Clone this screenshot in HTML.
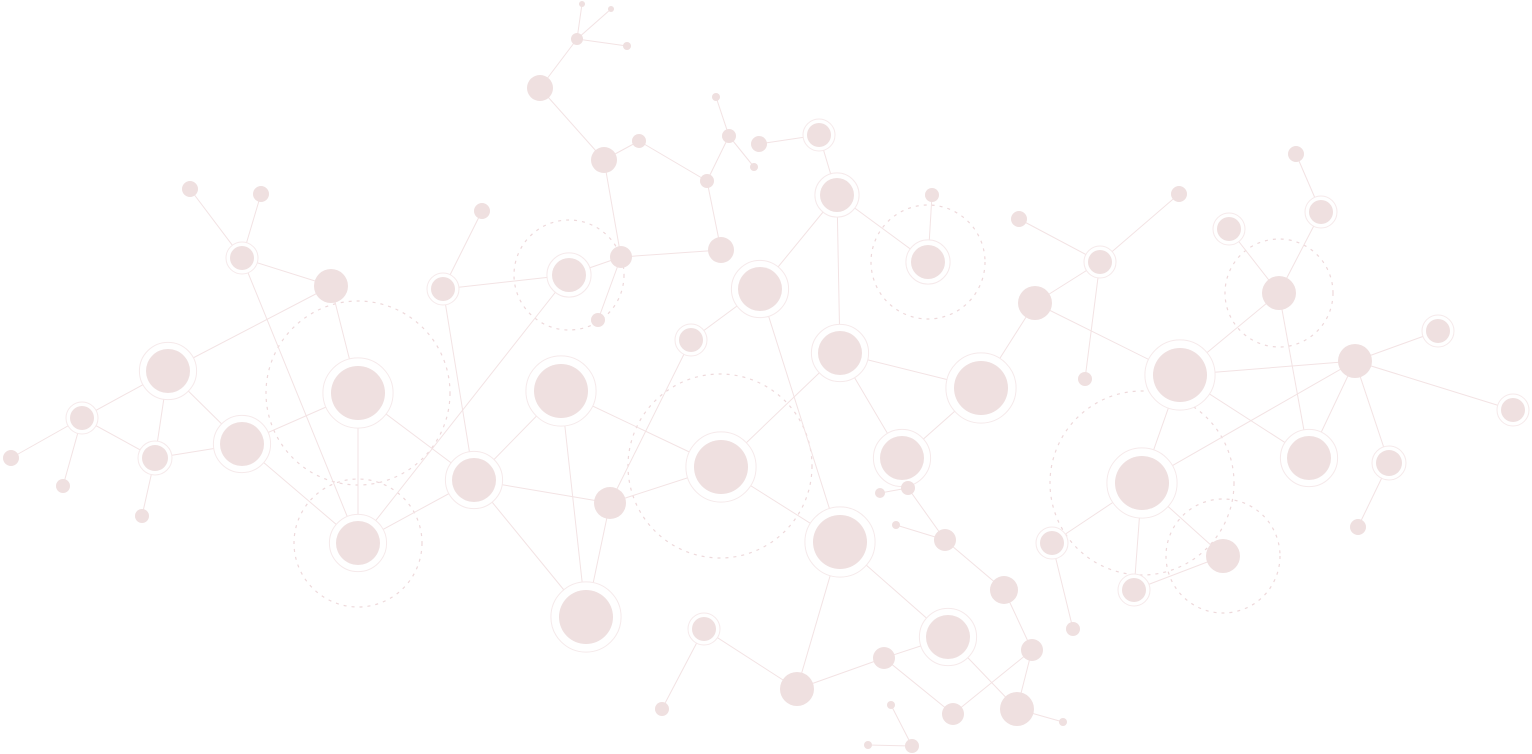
<!DOCTYPE html>
<html><head><meta charset="utf-8"><style>
html,body{margin:0;padding:0;background:#fff;width:1532px;height:754px;overflow:hidden}
svg{display:block}
</style></head><body>
<svg id="net" width="1532" height="754" viewBox="0 0 1532 754"></svg>
<script>
const nodeX=[582,611,577,627,540,604,639,716,729,754,707,759,819,837,932,928,621,721,598,569,443,482,190,261,242,331,168,82,11,63,155,142,242,358,358,474,561,610,586,691,760,721,840,981,902,880,908,840,896,945,1004,1032,1017,1063,948,884,953,797,704,662,891,912,868,1019,1100,1179,1035,1085,1180,1229,1296,1321,1279,1355,1438,1513,1309,1389,1358,1142,1052,1073,1134,1223];
const nodeY=[4,9,39,46,88,160,141,97,136,167,181,144,135,195,195,262,257,250,320,275,289,211,189,194,258,286,371,418,458,486,458,516,444,393,543,480,391,503,617,340,289,467,353,388,458,493,488,542,525,540,590,650,709,722,637,658,714,689,629,709,705,746,745,219,262,194,303,379,375,229,154,212,293,361,331,410,458,463,527,483,543,629,590,556];
const nodeR=[3,3,6,4,13,13,7,4,7,4,7,8,12,17,7,17,11,13,7,17,12,8,8,8,12,17,22,12,8,7,13,7,22,27,22,22,27,16,27,12,22,27,22,27,22,5,7,27,4,11,14,11,17,4,22,11,11,17,12,7,4,7,4,8,12,8,17,7,27,12,8,12,17,17,12,12,22,13,8,27,12,7,12,17];
const ringed=[12,13,15,19,20,24,26,27,30,32,33,34,35,36,38,39,40,41,42,43,44,47,54,58,64,68,69,71,74,75,76,77,79,80,82];
const edgeA=[0,1,2,2,4,5,6,7,8,8,10,5,16,16,11,12,13,14,13,13,19,20,20,16,19,22,23,24,24,25,25,26,26,26,27,27,27,30,30,32,32,33,33,34,35,35,35,36,36,37,37,37,39,40,41,41,42,42,43,43,44,45,46,48,49,50,51,52,51,47,54,54,55,55,47,57,58,60,61,63,64,64,64,66,68,68,68,68,69,70,71,72,73,73,73,73,73,77,79,80,79,82,79];
const edgeB=[2,2,3,4,5,6,10,8,9,10,17,16,17,18,12,13,15,15,40,42,20,21,35,19,34,24,24,25,34,26,33,27,30,32,28,29,30,31,32,33,34,34,35,35,36,37,38,38,41,38,41,39,40,47,42,47,43,44,44,66,46,46,49,49,50,51,52,53,56,54,55,52,56,57,57,58,59,61,62,64,65,66,67,68,72,73,76,79,72,71,72,76,74,75,76,77,79,78,80,81,83,83,82];
const bigX=[358,358,569,720,928,1279,1142,1223];
const bigY=[393,543,275,466,262,293,483,556];
const bigR=[92,64,55,92,57,54,92,57];

const svg=document.getElementById('net');
const NS='http://www.w3.org/2000/svg';
function mk(t,a){const e=document.createElementNS(NS,t);for(const k in a)e.setAttribute(k,a[k]);svg.appendChild(e);return e;}
for(let i=0;i<bigX.length;i++){
  const c=mk('circle',{cx:bigX[i],cy:bigY[i],r:bigR[i],fill:'none',stroke:'#eed9db','stroke-width':1.2,'stroke-dasharray':'3 5'});
  
  
}
for(let i=0;i<edgeA.length;i++){
  const a=edgeA[i],b=edgeB[i];
  const l=mk('line',{x1:nodeX[a],y1:nodeY[a],x2:nodeX[b],y2:nodeY[b],stroke:'#f3e3e4','stroke-width':1});
  
  
}
for(let i=0;i<nodeX.length;i++){
  if(ringed.includes(i)){
    const rr=mk('circle',{cx:nodeX[i],cy:nodeY[i],r:nodeR[i]+Math.max(4,nodeR[i]*0.3),fill:'#fff',stroke:'#f6eaeb','stroke-width':1});
    
    
  }
  const c=mk('circle',{cx:nodeX[i],cy:nodeY[i],r:nodeR[i],fill:'#efe0e0'});
  
  
}
</script>
</body></html>
